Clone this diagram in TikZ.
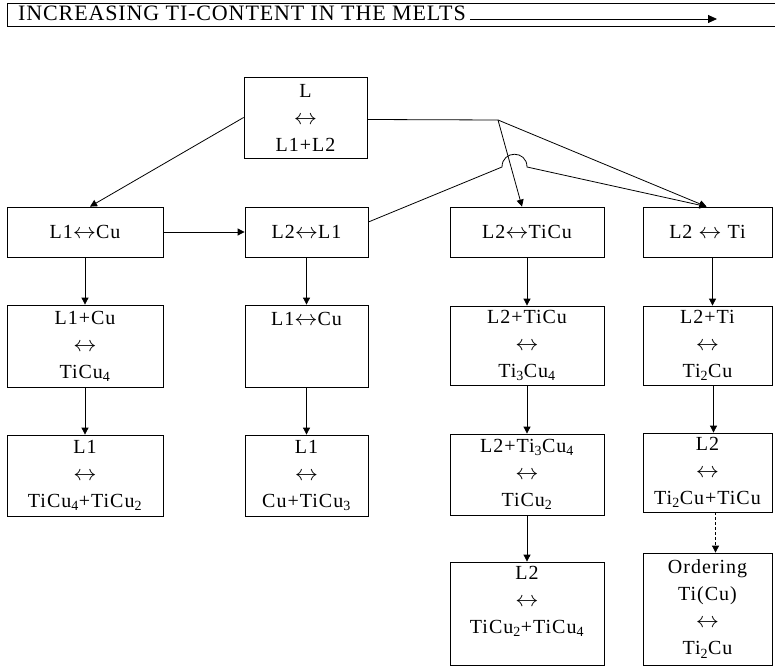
\documentclass[tikz,border=0pt]{standalone}
\usepackage{fontspec}
\usepackage{graphicx}
\setmainfont{Liberation Serif}
\newfontfamily\boxfont[LetterSpace=5]{Liberation Serif}
\newfontfamily\bannerfont[LetterSpace=4]{Liberation Serif}
\newcommand\lra{\scalebox{1.12}[1.05]{$\leftrightarrow$}}
\usetikzlibrary{arrows.meta}

\begin{document}
\begin{tikzpicture}[x=1pt,y=-1pt,
  stage/.style={draw,line width=0.8pt,inner sep=0pt,align=center,
    font=\boxfont\fontsize{20}{27}\selectfont},
  flow/.style={arrows=-{Triangle[length=7pt,width=7pt]},line width=0.8pt}]
  \useasboundingbox (0,0) rectangle (775,668);

  % banner
  \draw[line width=1pt] (7,4) rectangle (780,27);
  \node[anchor=base west,inner sep=0pt,font=\bannerfont\fontsize{22}{22}\selectfont] (banner) at (18,21) {INCREASING TI-CONTENT IN THE MELTS};
  \coordinate (bannerend) at (717,19);
  \draw[arrows=-{Triangle[length=9pt,width=8pt]},line width=0.8pt] ([xshift=4pt]banner.east |- bannerend) -- (bannerend);

  % top
  \node[stage,minimum width=123pt,minimum height=81pt] (top) at (305.5,117.5) {L\\\lra\\L1+L2};

  % first row
  \node[stage,minimum width=156pt,minimum height=50pt] (a1) at (85,232) {L1\lra Cu};
  \node[stage,minimum width=123pt,minimum height=50pt] (b1) at (306.5,232) {L2\lra L1};
  \node[stage,minimum width=154pt,minimum height=50pt] (c1) at (527,232) {L2\lra TiCu};
  \node[stage,minimum width=129pt,minimum height=50pt] (d1) at (707.5,232) {L2 \lra{} Ti};

  % second row
  \node[stage,minimum width=156pt,minimum height=82pt] (a2) at (85,346) {L1+Cu\\\lra\\TiCu\textsubscript{4}};
  \node[stage,minimum width=123pt,minimum height=82pt] (b2) at (306.5,346) {L1\lra Cu\\~\\~};
  \node[stage,minimum width=154pt,minimum height=79pt] (c2) at (527,345.5) {L2+TiCu\\\lra\\Ti\textsubscript{3}Cu\textsubscript{4}};
  \node[stage,minimum width=129pt,minimum height=79pt] (d2) at (707.5,345.5) {L2+Ti\\\lra\\Ti\textsubscript{2}Cu};

  % third row
  \node[stage,minimum width=156pt,minimum height=81pt] (a3) at (85,475.5) {L1\\\lra\\TiCu\textsubscript{4}+TiCu\textsubscript{2}};
  \node[stage,minimum width=123pt,minimum height=81pt] (b3) at (306.5,475.5) {L1\\\lra\\Cu+TiCu\textsubscript{3}};
  \node[stage,minimum width=154pt,minimum height=81pt] (c3) at (527,474.5) {L2+Ti\textsubscript{3}Cu\textsubscript{4}\\\lra\\TiCu\textsubscript{2}};
  \node[stage,minimum width=129pt,minimum height=79pt] (d3) at (707.5,472.5) {L2\\\lra\\Ti\textsubscript{2}Cu+TiCu};

  % fourth row
  \node[stage,minimum width=154pt,minimum height=103pt] (c4) at (527,613.5) {L2\\\lra\\TiCu\textsubscript{2}+TiCu\textsubscript{4}\\~};
  \node[stage,minimum width=129pt,minimum height=112pt] (d4) at (707.5,609) {Ordering\\Ti(Cu)\\\lra\\Ti\textsubscript{2}Cu};

  % splitting of the melt
  \coordinate (fork) at (498,120);
  \coordinate (hopin) at (502,167);
  \coordinate (hopout) at (527,167);
  \draw[flow] (top.west) -- ([xshift=5pt]a1.north);
  \draw[line width=0.8pt] ([yshift=-2pt]top.east) -- (fork);
  \draw[flow] (fork) -- ([xshift=-5pt]c1.north);
  \draw[flow] (fork) -- ([xshift=-1pt]d1.north);
  \draw[flow] (a1.east) -- (b1.west);
  \draw[flow] ([yshift=10pt]b1.east) -- (hopin) .. controls (502,150) and (527,150) .. (hopout) -- ([xshift=-1pt]d1.north);

  % downwards
  \draw[flow] (a1.south) -- (a2.north);
  \draw[flow] (a2.south) -- (a3.north);
  \draw[flow] (b1.south) -- (b2.north);
  \draw[flow] (b2.south) -- (b3.north);
  \draw[flow] (c1.south) -- (c2.north);
  \draw[flow] (c2.south) -- (c3.north);
  \draw[flow] (c3.south) -- (c4.north);
  \draw[flow] ([xshift=5pt]d1.south) -- ([xshift=5pt]d2.north);
  \draw[flow] ([xshift=6pt]d2.south) -- ([xshift=6pt]d3.north);
  \draw[flow,dash pattern=on 3pt off 2pt] ([xshift=8pt]d3.south) -- ([xshift=8pt]d4.north);
\end{tikzpicture}
\end{document}
